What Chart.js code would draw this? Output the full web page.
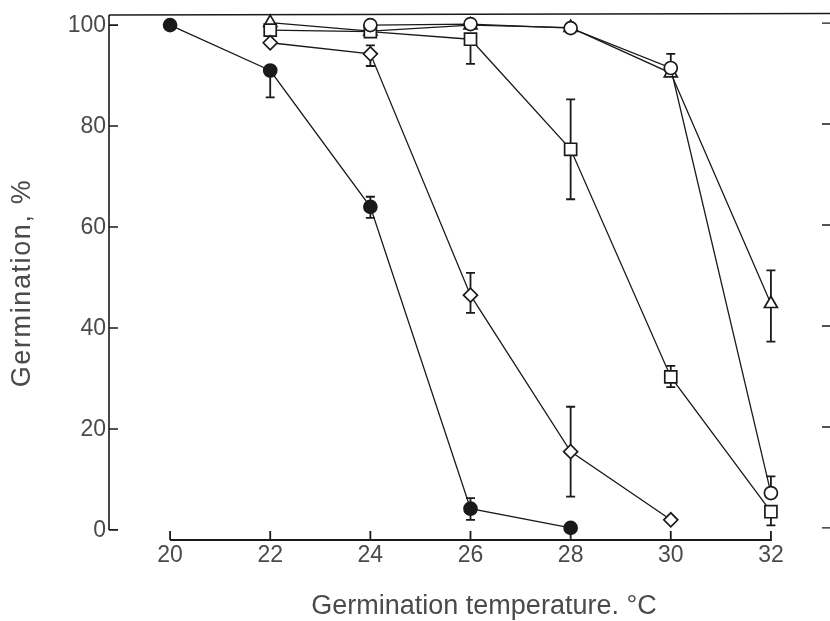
<!DOCTYPE html>
<html>
<head>
<meta charset="utf-8">
<script src="https://cdn.jsdelivr.net/npm/chart.js@4/dist/chart.umd.min.js"></script>
<style>
  html, body { margin: 0; padding: 0; background: #fff; overflow: hidden; }
  canvas { display: block; }
</style>
</head>
<body>
<canvas id="germChart" width="830" height="621"></canvas>
<script>
// ── DATA ─────────────────────────────────────────────
const temps      = [20, 22, 24, 26, 28, 30, 32];
const xTicks     = [20, 22, 24, 26, 28, 30, 32];
const yTicks     = [0, 20, 40, 60, 80, 100];

// germination %, one value per temperature (null = not measured)
const filledCircle = [100, 91, 64, 4.2, 0.4, null, null];
const openDiamond  = [null, 96.5, 94.3, 46.5, 15.5, 2.0, null];
const openSquare   = [null, 99, 98.7, 97.2, 75.4, 30.3, 3.6];
const openCircle   = [null, null, 100, 100.2, 99.4, 91.5, 7.3];
const openTriangle = [null, 100.5, 98.8, 100, 99.5, 90.5, 44.8];

// error bars [low, high] per temperature
const errFilledCircle = [null, [85.7, 91], [61.8, 66], [2.0, 6.3], null, null, null];
const errOpenDiamond  = [null, null, [91.9, 96], [43, 50.9], [6.6, 24.4], null, null];
const errOpenSquare   = [null, null, null, [92.3, 97.2], [65.5, 85.3], [28.3, 32.5], [0.9, 3.6]];
const errOpenCircle   = [null, null, null, null, null, [91.5, 94.3], [7.3, 10.6]];
const errOpenTriangle = [null, null, null, null, null, null, [37.3, 51.4]];

const xTitle = 'Germination temperature. °C';
const yTitle = 'Germination, %';

// ── HELPERS ──────────────────────────────────────────
const toPoints = vals => temps
  .map((t, i) => ({ x: t, y: vals[i] }))
  .filter(p => p.y !== null);

const ink = '#1a1a1a';
const txt = '#4a4a4a';
const font = "'Liberation Sans', Arial, sans-serif";

function series(vals, errs, style, radius, filled) {
  return {
    data: toPoints(vals),
    errs: errs,
    borderColor: ink,
    borderWidth: 1.3,
    pointStyle: style,
    pointRadius: radius,
    pointHoverRadius: radius,
    pointBorderWidth: 1.7,
    pointBorderColor: ink,
    pointBackgroundColor: filled ? ink : '#fff',
    tension: 0,
    fill: false,
    clip: false,
  };
}

// error bars drawn under the markers
const errorBars = {
  id: 'errorBars',
  beforeDatasetsDraw(chart) {
    const { ctx, scales: { x, y } } = chart;
    ctx.save();
    ctx.strokeStyle = ink;
    ctx.lineWidth = 1.8;
    chart.data.datasets.forEach(ds => {
      (ds.errs || []).forEach((e, i) => {
        if (!e) return;
        const px = x.getPixelForValue(temps[i]);
        const lo = y.getPixelForValue(e[0]);
        const hi = y.getPixelForValue(e[1]);
        ctx.beginPath();
        ctx.moveTo(px, lo); ctx.lineTo(px, hi);
        ctx.moveTo(px - 4.5, lo); ctx.lineTo(px + 4.5, lo);
        ctx.moveTo(px - 4.5, hi); ctx.lineTo(px + 4.5, hi);
        ctx.stroke();
      });
    });
    ctx.restore();
  },
};

// hand-styled axes: offset x axis, inward ticks, frame line on top
const axes = {
  id: 'axes',
  afterDraw(chart) {
    const { ctx, chartArea: a, scales: { x, y } } = chart;
    ctx.save();
    ctx.strokeStyle = ink;
    ctx.lineWidth = 1.6;

    // top frame
    ctx.beginPath();
    ctx.moveTo(a.left, a.top); ctx.lineTo(a.right, a.top - 1.5);
    ctx.stroke();

    // y axis
    const y0 = y.getPixelForValue(0);
    ctx.beginPath();
    ctx.moveTo(a.left, a.top); ctx.lineTo(a.left, y0);
    yTicks.forEach(v => {
      const py = y.getPixelForValue(v);
      ctx.moveTo(a.left, py); ctx.lineTo(a.left + 9, py);
    });
    ctx.stroke();

    // right-hand ticks (axis itself is off the page)
    ctx.lineWidth = 1.4;
    ctx.beginPath();
    yTicks.forEach(v => {
      const py = y.getPixelForValue(v) - 2;
      ctx.moveTo(a.right - 8, py); ctx.lineTo(a.right, py);
    });
    ctx.stroke();

    // x axis
    ctx.lineWidth = 1.8;
    const xb = a.bottom;
    ctx.beginPath();
    ctx.moveTo(x.getPixelForValue(xTicks[0]), xb);
    ctx.lineTo(x.getPixelForValue(xTicks[xTicks.length - 1]) + 1, xb);
    xTicks.forEach(v => {
      const px = x.getPixelForValue(v);
      ctx.moveTo(px, xb); ctx.lineTo(px, xb - 9);
    });
    ctx.stroke();

    // tick labels
    ctx.fillStyle = txt;
    ctx.font = `23px ${font}`;
    ctx.textAlign = 'right';
    ctx.textBaseline = 'middle';
    yTicks.forEach(v => ctx.fillText(String(v), a.left - 3, y.getPixelForValue(v) + 1));
    ctx.textAlign = 'center';
    xTicks.forEach(v => ctx.fillText(String(v), x.getPixelForValue(v), xb + 16));

    // titles
    ctx.font = `27px ${font}`;
    ctx.fillText(xTitle, 484, 607);
    ctx.translate(23, 283);
    ctx.rotate(-Math.PI / 2);
    ctx.letterSpacing = '1.6px';
    ctx.fillText(yTitle, 0, 0);
    ctx.restore();
  },
};

new Chart(document.getElementById('germChart'), {
  type: 'line',
  data: {
    datasets: [
      series(filledCircle, errFilledCircle, 'circle', 6.5, true),
      series(openDiamond,  errOpenDiamond,  'rectRot', 7, false),
      series(openCircle,   errOpenCircle,   'circle', 6.5, false),
      series(openSquare,   errOpenSquare,   'rect', 8.5, false),
      series(openTriangle, errOpenTriangle, 'triangle', 7.5, false),
    ],
  },
  options: {
    responsive: false,
    animation: false,
    layout: { autoPadding: false, padding: { left: 109, right: 0, top: 15, bottom: 81 } },
    plugins: { legend: { display: false }, tooltip: { enabled: false } },
    scales: {
      x: { type: 'linear', min: 18.78, max: 33.18, display: false },
      y: { type: 'linear', min: -2, max: 102, display: false },
    },
  },
  plugins: [errorBars, axes],
});
</script>
</body>
</html>
